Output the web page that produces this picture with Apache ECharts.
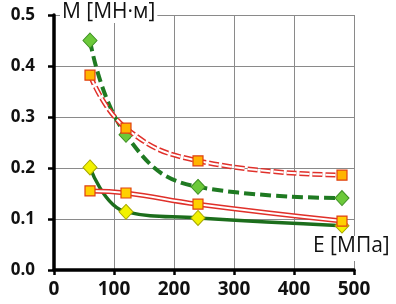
<!DOCTYPE html>
<html>
<head>
<meta charset="utf-8">
<script src="https://cdn.jsdelivr.net/npm/echarts@6/dist/echarts.min.js"></script>
<style>
  html, body { margin: 0; padding: 0; background: #fff; }
  #chart { width: 396px; height: 304px; }
</style>
</head>
<body>
<div id="chart"></div>
<script>
  // E [МПа]
  var eValues = [60, 120, 240, 480];
  // М [МН·м]
  var greenDashed = [0.45, 0.265, 0.163, 0.141];
  var redDashed = [0.382, 0.278, 0.214, 0.186];
  var redSolid = [0.155, 0.151, 0.129, 0.096];
  var greenSolid = [0.201, 0.114, 0.102, 0.087];

  var xTicks = [0, 100, 200, 300, 400, 500];
  var yTicks = [0, 0.1, 0.2, 0.3, 0.4, 0.5];

  function pairs(vals) {
    return eValues.map(function (e, i) { return [e, vals[i]]; });
  }

  var chart = echarts.init(document.getElementById('chart'));

  var option = {
    animation: false,
    grid: { left: 54, right: 42, top: 15, bottom: 34 },
    xAxis: {
      type: 'value',
      min: xTicks[0],
      max: xTicks[xTicks.length - 1],
      interval: 100,
      axisLine: { lineStyle: { color: '#000', width: 3.5 } },
      axisTick: { show: true, length: 5, lineStyle: { color: '#000', width: 2.5 } },
      axisLabel: {
        color: '#111', fontSize: 19, fontWeight: 'bold',
        fontFamily: 'Open Sans', margin: 10
      },
      splitLine: { show: true, lineStyle: { color: '#8a8a8a', width: 1 } }
    },
    yAxis: {
      type: 'value',
      min: yTicks[0],
      max: yTicks[yTicks.length - 1],
      interval: 0.1,
      axisLine: { show: true, lineStyle: { color: '#000', width: 3.5 } },
      axisTick: { show: true, length: 6, lineStyle: { color: '#000', width: 2.5 } },
      axisLabel: {
        color: '#111', fontSize: 17, fontWeight: 'bold',
        fontFamily: 'Open Sans', margin: 19,
        formatter: function (v) { return v.toFixed(1); }
      },
      splitLine: { show: true, lineStyle: { color: '#8a8a8a', width: 1 } }
    },
    series: [
      // зелёная пунктирная
      {
        type: 'line', data: pairs(greenDashed), smooth: 0.45,
        lineStyle: { color: '#1f7a22', width: 4, type: [11, 5] },
        symbol: 'diamond', symbolSize: [14, 15],
        itemStyle: { color: '#6cc93a', borderColor: '#3c8e22', borderWidth: 1 },
        z: 2
      },
      // зелёная сплошная
      {
        type: 'line', data: pairs(greenSolid), smooth: 0.45,
        lineStyle: { color: '#1c6e1c', width: 3.5 },
        symbol: 'diamond', symbolSize: [14, 15],
        itemStyle: { color: '#f2f200', borderColor: '#a8a800', borderWidth: 1 },
        z: 2
      },
      // красная пунктирная (двойная)
      {
        type: 'line', data: pairs(redDashed), smooth: 0.45,
        lineStyle: { color: '#e0302a', width: 5, type: [10, 3] },
        symbol: 'none', z: 3
      },
      {
        type: 'line', data: pairs(redDashed), smooth: 0.45,
        lineStyle: { color: '#fff', width: 2, type: [10, 3] },
        symbol: 'rect', symbolSize: 10,
        itemStyle: { color: '#ffb400', borderColor: '#e04010', borderWidth: 1.2 },
        z: 4
      },
      // красная сплошная (двойная)
      {
        type: 'line', data: pairs(redSolid), smooth: 0.45,
        lineStyle: { color: '#e0302a', width: 5 },
        symbol: 'none', z: 3
      },
      {
        type: 'line', data: pairs(redSolid), smooth: 0.45,
        lineStyle: { color: '#fff', width: 2 },
        symbol: 'rect', symbolSize: 10,
        itemStyle: { color: '#ffd000', borderColor: '#e04010', borderWidth: 1.2 },
        z: 4
      }
    ],
    graphic: [
      {
        type: 'text', left: 60, top: 2, z: 100,
        style: {
          text: 'М [МН·м]', fill: '#111', font: '21px "Open Sans"',
          backgroundColor: '#fff', padding: [0, 2, 0, 2]
        }
      },
      {
        type: 'text', left: 311, top: 236, z: 100,
        style: {
          text: 'Е [МПа]', fill: '#111', font: '21px "Open Sans"',
          backgroundColor: '#fff', padding: [0, 2, 4, 2]
        }
      }
    ]
  };

  chart.setOption(option);
</script>
</body>
</html>
